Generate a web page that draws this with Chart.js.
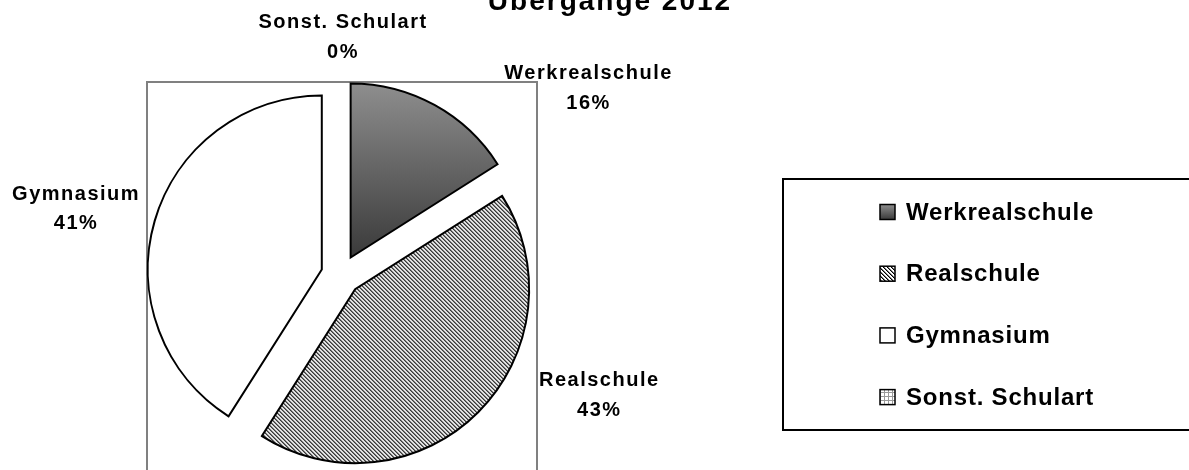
<!DOCTYPE html>
<html>
<head>
<meta charset="utf-8">
<script src="https://cdn.jsdelivr.net/npm/chart.js@4"></script>
<style>
  html, body { margin: 0; padding: 0; background: #fff; }
  #wrap { width: 1189px; height: 470px; position: relative; }
</style>
</head>
<body>
<div id="wrap"><canvas id="chart"></canvas></div>
<script>
// Daten
const categories = ['Werkrealschule', 'Realschule', 'Gymnasium', 'Sonst. Schulart'];
const shares = [16, 43, 41, 0]; // Anteile in %
const titleText = 'Übergänge 2012';

const pieRadius = 174;
const explode = 20;
const font = '"Liberation Sans", Arial, sans-serif';

const canvas = document.getElementById('chart');
const g2d = canvas.getContext('2d');

// kleine Muster-Kacheln wie in Excel
function tile(size, paint) {
  const c = document.createElement('canvas');
  c.width = c.height = size;
  const t = c.getContext('2d');
  t.fillStyle = '#fff';
  t.fillRect(0, 0, size, size);
  paint(t);
  return g2d.createPattern(c, 'repeat');
}

const hatch = tile(4, t => {
  for (let y = 0; y < 4; y++) {
    for (let x = 0; x < 4; x++) {
      const k = (x - y + 4) % 4;
      if (k === 0) { t.fillStyle = '#000'; t.fillRect(x, y, 1, 1); }
      else if (k === 1) { t.fillStyle = '#7a7a7a'; t.fillRect(x, y, 1, 1); }
    }
  }
});
const grid = tile(4, t => {
  t.fillStyle = '#9a9a9a';
  t.fillRect(0, 0, 4, 1);
  t.fillRect(0, 0, 1, 4);
});

function fillFor(i, c, top, bottom) {
  if (i === 0) {
    const gr = c.createLinearGradient(0, top, 0, bottom);
    gr.addColorStop(0, '#8e8e8e');
    gr.addColorStop(1, '#3a3a3a');
    return gr;
  }
  if (i === 1) return hatch;
  if (i === 2) return '#ffffff';
  return grid;
}

// Rahmen der Zeichnungsfläche
const plotFrame = {
  id: 'plotFrame',
  beforeDatasetsDraw(chart) {
    const c = chart.ctx;
    c.save();
    c.strokeStyle = '#808080';
    c.lineWidth = 2;
    c.strokeRect(147, 82, 390, 400);
    c.restore();
  }
};

// Segmente herausgezogen zeichnen
const explodedSlices = {
  id: 'explodedSlices',
  beforeDatasetDraw(chart, args) {
    const c = chart.ctx;
    args.meta.data.forEach(arc => {
      const mid = (arc.startAngle + arc.endAngle) / 2;
      c.save();
      c.translate(Math.cos(mid) * explode, Math.sin(mid) * explode);
      arc.draw(c);
      c.restore();
    });
    return false;
  }
};

// Beschriftungen: Kategorie + Prozent
const sliceLabels = {
  id: 'sliceLabels',
  afterDatasetsDraw(chart, args, opts) {
    const c = chart.ctx;
    const meta = chart.getDatasetMeta(0);
    const total = shares.reduce((a, b) => a + b, 0);
    const cx = meta.data[0].x, cy = meta.data[0].y;
    c.save();
    c.fillStyle = '#000';
    c.font = 'bold 20px ' + font;
    c.letterSpacing = '1.5px';
    c.textAlign = 'center';
    c.textBaseline = 'middle';
    categories.forEach((name, i) => {
      const p = opts.place[i];
      const a = (p.angle - 90) * Math.PI / 180;
      const x = cx + Math.cos(a) * p.dist;
      const y = cy + Math.sin(a) * p.dist;
      c.fillText(name, x, y - 14.5);
      c.fillText(Math.round(shares[i] / total * 100) + '%', x, y + 15);
    });
    c.restore();
  }
};

// Legende im Kasten + Titel
const boxLegend = {
  id: 'boxLegend',
  afterDraw(chart) {
    const c = chart.ctx;
    c.save();
    c.strokeStyle = '#000';
    c.lineWidth = 2;
    c.strokeRect(783, 179, 420, 251);

    c.font = 'bold 24px ' + font;
    c.letterSpacing = '0.8px';
    c.textAlign = 'left';
    c.textBaseline = 'middle';
    categories.forEach((name, i) => {
      const y = 212 + i * 61.7;
      c.fillStyle = fillFor(i, c, y - 7.5, y + 7.5);
      c.fillRect(880, y - 7.5, 15, 15);
      c.strokeStyle = '#000';
      c.lineWidth = 1.5;
      c.strokeRect(880, y - 7.5, 15, 15);
      c.fillStyle = '#000';
      c.fillText(name, 906, y + 1);
    });

    c.font = 'bold 28px ' + font;
    c.letterSpacing = '2px';
    c.textAlign = 'center';
    c.textBaseline = 'alphabetic';
    c.fillText(titleText, 610, 10);
    c.restore();
  }
};

new Chart(canvas, {
  type: 'pie',
  data: {
    labels: categories,
    datasets: [{
      data: shares,
      backgroundColor(context) {
        const ca = context.chart.chartArea;
        if (!ca) return '#888';
        const cy = (ca.top + ca.bottom) / 2;
        return fillFor(context.dataIndex, context.chart.ctx, cy - pieRadius, cy);
      },
      borderColor: '#000',
      borderWidth: 2,
      borderJoinStyle: 'miter'
    }]
  },
  options: {
    responsive: true,
    maintainAspectRatio: false,
    animation: false,
    events: [],
    radius: pieRadius,
    layout: { padding: { left: 0, right: 507, top: 80, bottom: 0 } },
    plugins: {
      legend: { display: false },
      tooltip: { enabled: false },
      title: { display: false },
      sliceLabels: {
        place: [
          { angle: 53, dist: 310 },
          { angle: 115, dist: 285 },
          { angle: 284, dist: 273 },
          { angle: 0.5, dist: 238 }
        ]
      }
    }
  },
  plugins: [plotFrame, explodedSlices, sliceLabels, boxLegend]
});
</script>
</body>
</html>
